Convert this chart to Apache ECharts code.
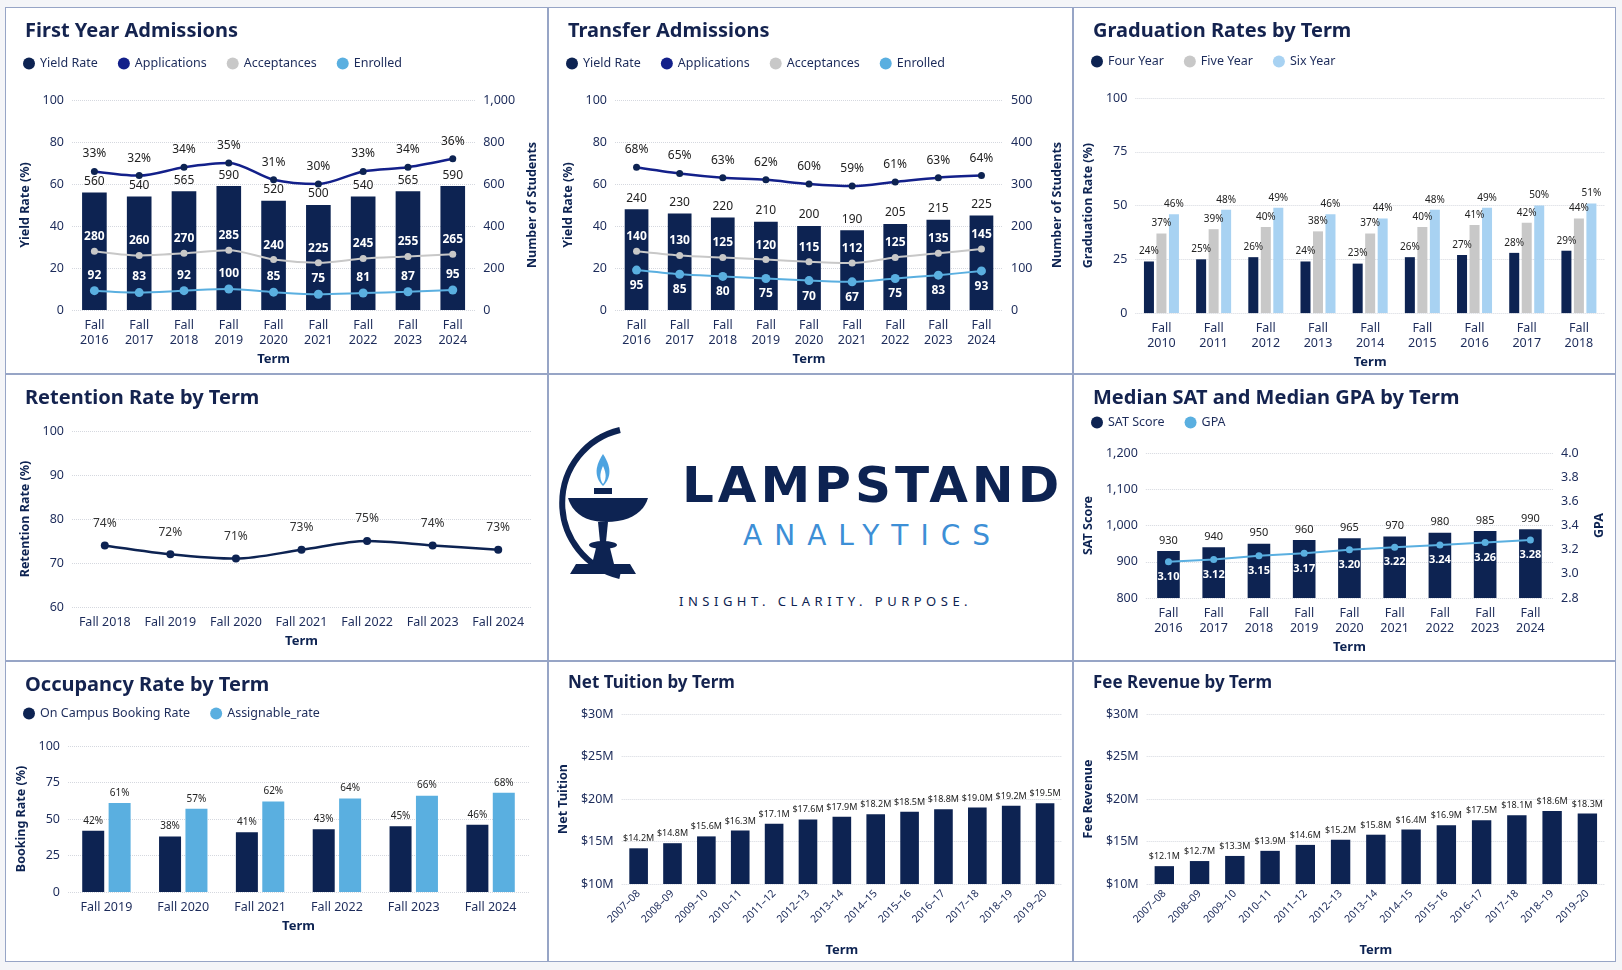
<!DOCTYPE html>
<html><head><meta charset="utf-8">
<script src="https://cdn.jsdelivr.net/npm/echarts@6/dist/echarts.min.js"></script>
<style>
html,body{margin:0;padding:0;width:100%;height:100%;background:#f4f5f8;font-family:"Noto Sans",sans-serif;overflow:hidden}
.p{position:absolute;background:#fff;border:1px solid #97a5c6;box-sizing:border-box}
#logo{display:flex;align-items:center;justify-content:center;flex-direction:column}
</style></head><body>
<div class="p" id="c1" style="left:0.3%;top:0.7%;width:33.5%;height:37.9%"></div>
<div class="p" id="c2" style="left:33.8%;top:0.7%;width:32.35%;height:37.9%"></div>
<div class="p" id="c3" style="left:66.15%;top:0.7%;width:33.5%;height:37.9%"></div>
<div class="p" id="c4" style="left:0.3%;top:38.6%;width:33.5%;height:29.5%"></div>
<div class="p" id="logo" style="left:33.8%;top:38.6%;width:32.35%;height:29.5%">
 <div style="display:flex;align-items:center;margin-left:-10px">
  <svg width="110" height="160" viewBox="0 0 110 160">
   <path d="M72 6 A75 75 0 0 0 72 152" fill="none" stroke="#0d2352" stroke-width="6"/>
   <path d="M55 30 C45 45 48 55 55 62 C62 55 65 45 55 30 Z" fill="#4da3e0"/>
   <path d="M55 42 C51 50 52 56 55 60 C58 56 59 50 55 42 Z" fill="#fff"/>
   <rect x="46" y="64" width="18" height="6" fill="#0d2352"/>
   <path d="M20 74 L100 74 C95 90 80 98 58 98 C38 98 25 90 20 74 Z" fill="#0d2352"/>
   <path d="M50 98 L60 98 L58 118 L52 118 Z" fill="#0d2352"/>
   <ellipse cx="55" cy="121" rx="14" ry="4" fill="#0d2352"/>
   <path d="M48 124 L62 124 L66 140 L44 140 Z" fill="#0d2352"/>
   <path d="M28 140 L82 140 L88 150 L22 150 Z" fill="#0d2352"/>
  </svg>
  <div style="margin-left:24px;text-align:center">
   <div style="font-family:'DejaVu Sans';font-weight:bold;font-size:50px;letter-spacing:4px;color:#0d2352;line-height:56px">LAMPSTAND</div>
   <div style="font-family:'DejaVu Sans';font-size:28px;letter-spacing:12px;color:#3d8fd6;margin-top:6px">ANALYTICS</div>
  </div>
 </div>
 <div style="font-size:13px;letter-spacing:4.5px;color:#0d2352;margin-top:8px;margin-left:30px">INSIGHT. CLARITY. PURPOSE.</div>
</div>
<div class="p" id="c6" style="left:66.15%;top:38.6%;width:33.5%;height:29.5%"></div>
<div class="p" id="c7" style="left:0.3%;top:68.1%;width:33.5%;height:31.1%"></div>
<div class="p" id="c8" style="left:33.8%;top:68.1%;width:32.35%;height:31.1%"></div>
<div class="p" id="c9" style="left:66.15%;top:68.1%;width:33.5%;height:31.1%"></div>
<script>
// ---- data ----
const fyTerms=["Fall\n2016","Fall\n2017","Fall\n2018","Fall\n2019","Fall\n2020","Fall\n2021","Fall\n2022","Fall\n2023","Fall\n2024"];
const fyYield=[33,32,34,35,31,30,33,34,36];
const fyApps=[560,540,565,590,520,500,540,565,590];
const fyAcc=[280,260,270,285,240,225,245,255,265];
const fyEnr=[92,83,92,100,85,75,81,87,95];
const trYield=[68,65,63,62,60,59,61,63,64];
const trApps=[240,230,220,210,200,190,205,215,225];
const trAcc=[140,130,125,120,115,112,125,135,145];
const trEnr=[95,85,80,75,70,67,75,83,93];
const gradTerms=["Fall\n2010","Fall\n2011","Fall\n2012","Fall\n2013","Fall\n2014","Fall\n2015","Fall\n2016","Fall\n2017","Fall\n2018"];
const grad4=[24,25,26,24,23,26,27,28,29];
const grad5=[37,39,40,38,37,40,41,42,44];
const grad6=[46,48,49,46,44,48,49,50,51];
const retTerms=["Fall 2018","Fall 2019","Fall 2020","Fall 2021","Fall 2022","Fall 2023","Fall 2024"];
const retRate=[74,72,71,73,75,74,73];
const satTerms=fyTerms;
const satScore=[930,940,950,960,965,970,980,985,990];
const gpa=[3.10,3.12,3.15,3.17,3.20,3.22,3.24,3.26,3.28];
const occTerms=["Fall 2019","Fall 2020","Fall 2021","Fall 2022","Fall 2023","Fall 2024"];
const occBook=[42,38,41,43,45,46];
const occAssign=[61,57,62,64,66,68];
const yearTerms=["2007–08","2008–09","2009–10","2010–11","2011–12","2012–13","2013–14","2014–15","2015–16","2016–17","2017–18","2018–19","2019–20"];
const netTuition=[14.2,14.8,15.6,16.3,17.1,17.6,17.9,18.2,18.5,18.8,19.0,19.2,19.5];
const feeRev=[12.1,12.7,13.3,13.9,14.6,15.2,15.8,16.4,16.9,17.5,18.1,18.6,18.3];

// ---- style ----
const NAVY='#0d2352',APP='#13208a',GRAY='#c8c8c8',LB='#5aafe0',LB2='#a8d2f2',TXT='#1c2b5a';
const F='"Noto Sans",sans-serif';
const title=t=>({text:t,left:14,top:8,textStyle:{fontFamily:F,fontSize:20,fontWeight:'bold',color:'#14234f'}});
const legend=(names,top)=>({top:top||44,left:12,icon:'circle',itemWidth:12,itemHeight:12,itemGap:20,data:names,textStyle:{fontFamily:F,fontSize:12.5,color:TXT}});
const split={show:true,lineStyle:{type:'dotted',color:'#d5d8df'}};
const lab={color:TXT,fontFamily:F,fontSize:12.5};
function vAxis(o){return Object.assign({type:'value',axisLine:{show:false},axisTick:{show:false},splitLine:split,axisLabel:lab,nameLocation:'middle',nameTextStyle:{fontFamily:F,fontWeight:'bold',fontSize:12.5,color:NAVY}},o);}
function cAxis(data,o){return Object.assign({type:'category',data:data,axisLine:{show:false},axisTick:{show:false},axisLabel:Object.assign({},lab,{lineHeight:15,interval:0}),name:'Term',nameLocation:'middle',nameGap:38,nameTextStyle:{fontFamily:F,fontWeight:'bold',fontSize:13,color:NAVY}},o||{});}
const mk=id=>echarts.init(document.getElementById(id));
const wl=(pos)=>({show:true,position:pos||'top',color:'#fff',fontFamily:F,fontSize:12,fontWeight:'bold'});

function admissions(id,t,yld,apps,acc,enr,rmax,rint,yieldAxis,enrPos){
 mk(id).setOption({title:title(t),
  legend:Object.assign(legend(['Yield Rate',{name:'Applications',itemStyle:{color:APP}},'Acceptances','Enrolled'])),
  grid:{left:66,right:66,top:92,bottom:64},
  xAxis:cAxis(fyTerms),
  yAxis:[vAxis({min:0,max:100,interval:20,name:'Yield Rate (%)',nameGap:40}),
   vAxis({min:0,max:rmax,interval:rint,name:'Number of Students',nameGap:48,splitLine:{show:false},axisLabel:Object.assign({},lab,{formatter:v=>v.toLocaleString('en-US')})}),
   vAxis({min:0,max:yieldAxis,show:false,splitLine:{show:false}})],
  series:[
   {name:'Applications',type:'bar',yAxisIndex:1,data:apps,barWidth:'55%',itemStyle:{color:NAVY},label:{show:true,position:'top',color:'#222',fontFamily:F,fontSize:12},z:1},
   {name:'Yield Rate',type:'line',yAxisIndex:2,data:yld,smooth:0.3,symbol:'circle',symbolSize:7,itemStyle:{color:NAVY},lineStyle:{color:APP,width:2.5},label:{show:true,position:'top',distance:8,color:'#222',fontFamily:F,fontSize:12,formatter:p=>p.value+'%'}},
   {name:'Acceptances',type:'line',yAxisIndex:1,data:acc,smooth:0.3,symbol:'circle',symbolSize:7,itemStyle:{color:GRAY},lineStyle:{color:GRAY,width:2},label:wl('top')},
   {name:'Enrolled',type:'line',yAxisIndex:1,data:enr,smooth:0.3,symbol:'circle',symbolSize:9,itemStyle:{color:LB},lineStyle:{color:LB,width:2},label:wl(enrPos)}
  ]});
}
admissions('c1','First Year Admissions',fyYield,fyApps,fyAcc,fyEnr,1000,200,50,'top');
admissions('c2','Transfer Admissions',trYield,trApps,trAcc,trEnr,500,100,100,'bottom');

const smallLab=f=>({show:true,position:'top',color:'#222',fontFamily:F,fontSize:10,formatter:f||(p=>p.value+'%')});
mk('c3').setOption({title:title('Graduation Rates by Term'),legend:legend(['Four Year','Five Year','Six Year'],42),
 grid:{left:56,right:10,top:90,bottom:58},xAxis:cAxis(gradTerms),
 yAxis:vAxis({min:0,max:100,interval:25,name:'Graduation Rate (%)',nameGap:34}),
 series:[{name:'Four Year',type:'bar',data:grad4,barWidth:10,barGap:'25%',itemStyle:{color:NAVY},label:smallLab()},
  {name:'Five Year',type:'bar',data:grad5,barWidth:10,barGap:'25%',itemStyle:{color:GRAY},label:smallLab()},
  {name:'Six Year',type:'bar',data:grad6,barWidth:10,barGap:'25%',itemStyle:{color:LB2},label:smallLab()}]});

mk('c4').setOption({title:title('Retention Rate by Term'),
 grid:{left:66,right:16,top:56,bottom:52},xAxis:cAxis(retTerms,{nameGap:22}),
 yAxis:vAxis({min:60,max:100,interval:10,name:'Retention Rate (%)',nameGap:38}),
 series:[{type:'line',data:retRate,smooth:0.3,symbol:'circle',symbolSize:8,itemStyle:{color:NAVY},lineStyle:{color:NAVY,width:2.5},label:{show:true,position:'top',distance:12,color:'#333',fontFamily:F,fontSize:12,formatter:p=>p.value+'%'}}]});

mk('c6').setOption({title:title('Median SAT and Median GPA by Term'),legend:legend(['SAT Score','GPA'],36),
 grid:{left:62,right:62,top:78,bottom:56},xAxis:cAxis(satTerms,{nameGap:34}),
 yAxis:[vAxis({min:800,max:1200,interval:100,name:'SAT Score',nameGap:48,axisLabel:Object.assign({},lab,{formatter:v=>v.toLocaleString('en-US')})}),
  vAxis({min:2.8,max:4.0,interval:0.2,name:'GPA',nameGap:40,splitLine:{show:false},axisLabel:Object.assign({},lab,{formatter:v=>v.toFixed(1)})})],
 series:[{name:'SAT Score',type:'bar',data:satScore,barWidth:'50%',itemStyle:{color:NAVY},label:{show:true,position:'top',color:'#222',fontFamily:F,fontSize:11}},
  {name:'GPA',type:'line',yAxisIndex:1,data:gpa,symbol:'circle',symbolSize:7,itemStyle:{color:LB},lineStyle:{color:LB,width:2},label:{show:true,position:'bottom',distance:6,color:'#fff',fontFamily:F,fontSize:11,fontWeight:'bold',formatter:p=>p.value.toFixed(2)}}]});

mk('c7').setOption({title:title('Occupancy Rate by Term'),legend:legend(['On Campus Booking Rate','Assignable_rate'],40),
 grid:{left:62,right:18,top:84,bottom:70},xAxis:cAxis(occTerms,{nameGap:28}),
 yAxis:vAxis({min:0,max:100,interval:25,name:'Booking Rate (%)',nameGap:38}),
 series:[{name:'On Campus Booking Rate',type:'bar',data:occBook,barWidth:22,barGap:'20%',itemStyle:{color:NAVY},label:smallLab(p=>p.value+'%')},
  {name:'Assignable_rate',type:'bar',data:occAssign,barWidth:22,barGap:'20%',itemStyle:{color:LB},label:smallLab(p=>p.value+'%')}]});
function money(id,t,name,data){
 mk(id).setOption({title:Object.assign(title(t),{textStyle:{fontFamily:F,fontSize:17,fontWeight:'bold',color:'#14234f'}}),
  grid:{left:66,right:10,top:52,bottom:78},
  xAxis:cAxis(yearTerms,{nameGap:60,axisLabel:Object.assign({},lab,{rotate:45,fontSize:10.5,interval:0})}),
  yAxis:vAxis({min:10,max:30,interval:5,name:name,nameGap:46,axisLabel:Object.assign({},lab,{formatter:v=>'$'+v+'M'})}),
  series:[{type:'bar',data:data,barWidth:'55%',itemStyle:{color:NAVY},label:{show:true,position:'top',color:'#222',fontFamily:F,fontSize:9,formatter:p=>'$'+p.value.toFixed(1)+'M'}}]});
}
money('c8','Net Tuition by Term','Net Tuition',netTuition);
money('c9','Fee Revenue by Term','Fee Revenue',feeRev);
</script></body></html>
